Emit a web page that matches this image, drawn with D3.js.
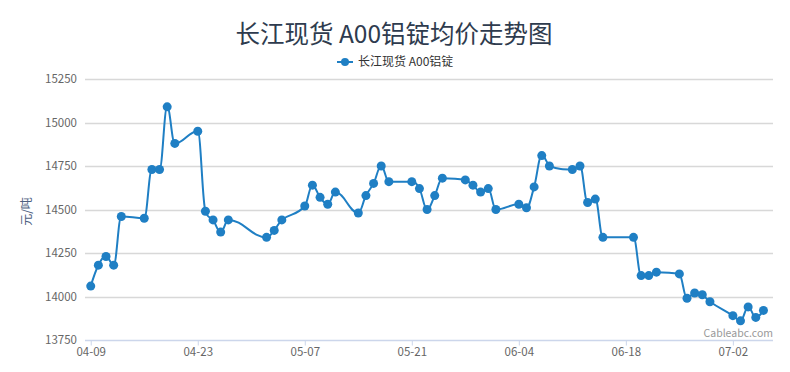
<!DOCTYPE html>
<html>
<head>
<meta charset="utf-8">
<script src="https://cdn.jsdelivr.net/npm/d3@7"></script>
<style>
  body { margin: 0; background: #fff; }
  svg { display: block; font-family: "Noto Sans CJK SC", "Open Sans", sans-serif; }
</style>
</head>
<body>
<div id="chart"></div>
<script>
var dates = ["04-09","04-10","04-11","04-12","04-13","04-16","04-17","04-18","04-19","04-20",
  "04-23","04-24","04-25","04-26","04-27","05-02","05-03","05-04","05-07","05-08",
  "05-09","05-10","05-11","05-14","05-15","05-16","05-17","05-18","05-21","05-22",
  "05-23","05-24","05-25","05-28","05-29","05-30","05-31","06-01","06-04","06-05",
  "06-06","06-07","06-08","06-11","06-12","06-13","06-14","06-15","06-19","06-20",
  "06-21","06-22","06-25","06-26","06-27","06-28","06-29","07-02","07-03","07-04",
  "07-05","07-06"];
var prices = [14060,14180,14230,14180,14460,14450,14730,14730,15090,14880,
  14950,14490,14440,14370,14440,14340,14380,14440,14520,14640,
  14570,14530,14600,14480,14580,14650,14750,14660,14660,14620,
  14500,14580,14680,14670,14640,14600,14620,14500,14530,14510,
  14630,14810,14750,14730,14750,14540,14560,14340,14340,14120,
  14120,14140,14130,13990,14020,14010,13970,13890,13860,13940,
  13880,13920];
var yTicks = [13750, 14000, 14250, 14500, 14750, 15000, 15250];
var xTickLabels = ["04-09","04-23","05-07","05-21","06-04","06-18","07-02"];

var width = 790, height = 372;
var margins = { top: 79, right: 17, bottom: 32, left: 85 };
var year = 2018;
var parse = d3.timeParse("%Y-%m-%d");
var toDate = function(s) { return parse(year + "-" + s); };

var data = dates.map(function(d, i) { return { date: toDate(d), value: prices[i] }; });

var svg = d3.select("#chart").append("svg")
  .attr("width", width)
  .attr("height", height);

var x = d3.scaleTime()
  .domain([d3.timeHour.offset(toDate("04-09"), -18), d3.timeHour.offset(toDate("07-06"), 30)])
  .range([margins.left, width - margins.right]);

var y = d3.scaleLinear()
  .domain([13750, 15250])
  .range([height - margins.bottom, margins.top]);

// spline like the original chart lib (smoothing 1.5, no false extremes)
function splinePath(pts) {
  var s = 1.5, den = s + 1;
  var p = d3.path();
  var rc = [];
  pts.forEach(function(pt, i) {
    if (i > 0 && i < pts.length - 1) {
      var l = pts[i - 1], n = pts[i + 1];
      var lx = (s * pt[0] + l[0]) / den, ly = (s * pt[1] + l[1]) / den;
      var rx = (s * pt[0] + n[0]) / den, ry = (s * pt[1] + n[1]) / den;
      var corr = 0;
      if (rx !== lx) corr = (ry - ly) * (rx - pt[0]) / (rx - lx) + pt[1] - ry;
      ly += corr; ry += corr;
      if (ly > l[1] && ly > pt[1]) { ly = Math.max(l[1], pt[1]); ry = 2 * pt[1] - ly; }
      else if (ly < l[1] && ly < pt[1]) { ly = Math.min(l[1], pt[1]); ry = 2 * pt[1] - ly; }
      if (ry > n[1] && ry > pt[1]) { ry = Math.max(n[1], pt[1]); ly = 2 * pt[1] - ry; }
      else if (ry < n[1] && ry < pt[1]) { ry = Math.min(n[1], pt[1]); ly = 2 * pt[1] - ry; }
      pt.lc = [lx, ly];
      rc[i] = [rx, ry];
    }
    if (i == 0) { p.moveTo(pt[0], pt[1]); return; }
    var a = rc[i - 1] || pts[i - 1];
    var b = pt.lc || pt;
    p.bezierCurveTo(a[0], a[1], b[0], b[1], pt[0], pt[1]);
  });
  return p.toString();
}

// grid lines
svg.append("g")
  .selectAll("line")
  .data(yTicks)
  .join("line")
  .attr("x1", margins.left)
  .attr("x2", width - margins.right)
  .attr("y1", d => Math.round(y(d)) + 0.5)
  .attr("y2", d => Math.round(y(d)) + 0.5)
  .style("stroke", d => d == 13750 ? "#ccd6eb" : "#d8d8d8")
  .style("stroke-width", 1.5);

// y labels
svg.append("g")
  .selectAll("text")
  .data(yTicks)
  .join("text")
  .attr("x", 77)
  .attr("y", d => y(d) + 4)
  .attr("text-anchor", "end")
  .style("font-size", "11.5px")
  .style("fill", "#666")
  .text(d => d);

svg.append("text")
  .attr("transform", "translate(31," + (y(14500) + 2) + ") rotate(-90)")
  .attr("text-anchor", "middle")
  .style("font-size", "12px")
  .style("fill", "#4d6080")
  .text("元/吨");

// x axis
var xAxis = d3.axisBottom(x)
  .tickValues(xTickLabels.map(toDate))
  .tickFormat(d3.timeFormat("%m-%d"))
  .tickSize(5)
  .tickPadding(2);

var gx = svg.append("g")
  .attr("transform", "translate(0," + (height - margins.bottom + 0.5) + ")")
  .call(xAxis);
gx.select(".domain").remove();
gx.selectAll(".tick line").style("stroke", "#ccd6eb");
gx.selectAll(".tick text")
  .style("font-family", "'Noto Sans CJK SC', sans-serif")
  .style("font-size", "11.5px")
  .style("fill", "#666");

// line
var pts = data.map(d => [x(d.date), y(d.value)]);

svg.append("path")
  .attr("d", splinePath(pts))
  .style("fill", "none")
  .style("stroke", "#1f7fc4")
  .style("stroke-width", 2);

svg.append("g")
  .selectAll("circle")
  .data(data)
  .join("circle")
  .attr("cx", d => x(d.date))
  .attr("cy", d => y(d.value))
  .attr("r", 4.5)
  .style("fill", "#1f7fc4");

// title
svg.append("text")
  .attr("x", 394)
  .attr("y", 43)
  .attr("text-anchor", "middle")
  .style("font-size", "24.5px")
  .style("fill", "#2e3b4e")
  .text("长江现货 A00铝锭均价走势图");

// legend
var legend = svg.append("g").attr("transform", "translate(345,62)");
legend.append("line")
  .attr("x1", -8).attr("x2", 8)
  .style("stroke", "#1f7fc4")
  .style("stroke-width", 2);
legend.append("circle")
  .attr("r", 4)
  .style("fill", "#1f7fc4");
legend.append("text")
  .attr("x", 13)
  .attr("y", 4)
  .style("font-size", "12px")
  .style("fill", "#333")
  .text("长江现货 A00铝锭");

// credits
svg.append("text")
  .attr("x", width - margins.right)
  .attr("y", 337)
  .attr("text-anchor", "end")
  .style("font-size", "10.5px")
  .style("fill", "#999")
  .text("Cableabc.com");
</script>
</body>
</html>
